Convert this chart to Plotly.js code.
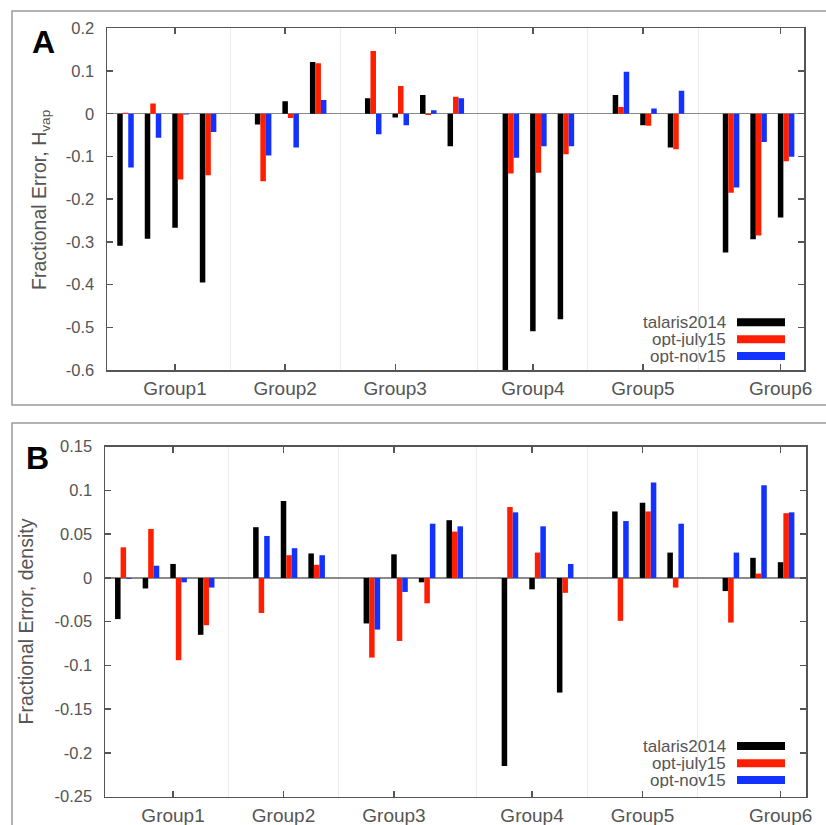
<!DOCTYPE html>
<html>
<head>
<meta charset="utf-8">
<script src="https://cdn.plot.ly/plotly-3.0.1.min.js"></script>
<style>html,body{margin:0;padding:0;background:#fff;}#chart{width:826px;height:825px;}</style>
</head>
<body>
<div id="chart"></div>
<script>
// Cluster slots along the x axis (empty slots separate the groups)
const slots = [0,1,2,3,5,6,7,9,10,11,12,14,15,16,18,19,20,22,23,24];
const groupTickPos = [2,6,10,15,19,24];
const groupLabels = ['Group1','Group2','Group3','Group4','Group5','Group6'];
const separatorPos = [4,8,13,17,21];
const seriesNames = ['talaris2014','opt-july15','opt-nov15'];
const seriesColors = ['#000000','#ff1e00','#1432ff'];

// Panel A: fractional error, Hvap
const hvapTalaris = [-0.309,-0.293,-0.267,-0.395,-0.025,0.029,0.121,0.036,-0.009,0.044,-0.076,-0.600,-0.509,-0.481,0.044,-0.027,-0.079,-0.325,-0.294,-0.243];
const hvapJuly    = [0.002,0.024,-0.154,-0.144,-0.158,-0.010,0.118,0.147,0.065,-0.003,0.040,-0.140,-0.138,-0.095,0.016,-0.028,-0.083,-0.185,-0.285,-0.111];
const hvapNov     = [-0.126,-0.056,-0.002,-0.043,-0.098,-0.079,0.032,-0.048,-0.027,0.008,0.036,-0.103,-0.076,-0.076,0.098,0.012,0.054,-0.173,-0.066,-0.101];

// Panel B: fractional error, density
const densTalaris = [-0.047,-0.012,0.016,-0.065,0.058,0.088,0.028,-0.052,0.027,-0.005,0.066,-0.215,-0.013,-0.131,0.076,0.086,0.029,-0.015,0.023,0.018];
const densJuly    = [0.035,0.056,-0.094,-0.054,-0.040,0.026,0.015,-0.091,-0.072,-0.029,0.053,0.081,0.029,-0.017,-0.049,0.076,-0.011,-0.051,0.005,0.074];
const densNov     = [-0.001,0.014,-0.005,-0.011,0.048,0.034,0.026,-0.059,-0.016,0.062,0.059,0.075,0.059,0.016,0.065,0.109,0.062,0.029,0.106,0.075];

// Tick labels
const hvapTickVals = [0.2,0.1,0,-0.1,-0.2,-0.3,-0.4,-0.5,-0.6];
const hvapTickText = ['0.2','0.1','0','-0.1','-0.2','-0.3','-0.4','-0.5','-0.6'];
const densTickVals = [0.15,0.1,0.05,0,-0.05,-0.1,-0.15,-0.2,-0.25];
const densTickText = ['0.15','0.1','0.05','0','-0.05','-0.1','-0.15','-0.2','-0.25'];

const W = 826, H = 825;
const px = v => v / W;
const py = v => 1 - v / H;

const barW = 0.2;
const offsets = [-0.1, 0.1, 0.3];
const panelA = [hvapTalaris, hvapJuly, hvapNov];
const panelB = [densTalaris, densJuly, densNov];

const traces = [];
[[panelA,'x','y'],[panelB,'x2','y2']].forEach(([series, xa, ya]) => {
  series.forEach((vals, i) => {
    traces.push({
      type: 'bar', x: slots, y: vals, name: seriesNames[i],
      xaxis: xa, yaxis: ya, width: barW, offset: offsets[i],
      marker: {color: seriesColors[i], line: {width: 0}},
      showlegend: false, hoverinfo: 'x+y+name'
    });
  });
});

const txtColor = '#555555';
const axColor = '#555555';
function xAxis(domain, range, anchor) {
  return {
    domain: domain, range: range, anchor: anchor,
    tickmode: 'array', tickvals: groupTickPos, ticktext: groupLabels,
    ticks: 'inside', ticklen: 6, tickwidth: 1.5, tickcolor: axColor,
    showline: true, linecolor: axColor, linewidth: 1.5, mirror: 'ticks',
    showgrid: false, zeroline: false,
    tickfont: {size: 19, color: txtColor}, ticklabelstandoff: 1,
    minor: {tickmode: 'array', tickvals: separatorPos, showgrid: true, gridcolor: '#ececec', gridwidth: 1, ticks: ''},
    fixedrange: true
  };
}
function yAxis(domain, range, anchor, tv, tt) {
  return {
    domain: domain, range: range, anchor: anchor,
    tickmode: 'array', tickvals: tv, ticktext: tt,
    ticks: 'inside', ticklen: 6, tickwidth: 1.5, tickcolor: axColor,
    showline: true, linecolor: axColor, linewidth: 1.5, mirror: 'ticks',
    showgrid: false, zeroline: true, zerolinecolor: '#8a8a8a', zerolinewidth: 1.5,
    tickfont: {size: 16.5, color: txtColor}, ticklabelstandoff: 8,
    fixedrange: true
  };
}

const annotations = [
  {text: '<b>A</b>', xref: 'paper', yref: 'paper', x: px(43.5), y: py(42), xanchor: 'center', yanchor: 'middle', showarrow: false, font: {size: 32, color: '#000'}},
  {text: '<b>B</b>', xref: 'paper', yref: 'paper', x: px(37), y: py(458), xanchor: 'center', yanchor: 'middle', showarrow: false, font: {size: 32, color: '#000'}},
  {text: 'Fractional Error, H<sub>vap</sub>', xref: 'paper', yref: 'paper', x: px(40), y: py(200), xanchor: 'center', yanchor: 'middle', textangle: -90, showarrow: false, font: {size: 19.5, color: txtColor}},
  {text: 'Fractional Error, density', xref: 'paper', yref: 'paper', x: px(25), y: py(621.5), xanchor: 'center', yanchor: 'middle', textangle: -90, showarrow: false, font: {size: 19.5, color: txtColor}}
];
const shapes = [
  {type: 'rect', xref: 'paper', yref: 'paper', x0: px(12), x1: px(840), y0: py(405), y1: py(11), line: {color: '#9a9a9a', width: 1.5}},
  {type: 'rect', xref: 'paper', yref: 'paper', x0: px(12), x1: px(840), y0: py(840), y1: py(423), line: {color: '#9a9a9a', width: 1.5}}
];
const legendRowsA = [322.3, 339.3, 356];
const legendRowsB = [746, 763.3, 780];
[legendRowsA, legendRowsB].forEach(rows => {
  rows.forEach((yy, i) => {
    annotations.push({text: seriesNames[i], xref: 'paper', yref: 'paper', x: px(727), y: py(yy), xanchor: 'right', yanchor: 'middle', height: 16, borderpad: 0, showarrow: false, font: {size: 17, color: txtColor}});
    shapes.push({type: 'line', xref: 'paper', yref: 'paper', x0: px(737), x1: px(785), y0: py(yy), y1: py(yy), line: {color: seriesColors[i], width: 8}});
  });
});

const layout = {
  width: W, height: H,
  margin: {l: 0, r: 0, t: 0, b: 0},
  paper_bgcolor: '#ffffff', plot_bgcolor: '#ffffff',
  font: {family: 'Liberation Sans, Arial, sans-serif', color: txtColor},
  barmode: 'overlay', showlegend: false,
  xaxis: xAxis([px(107), px(804)], [-0.472, 24.85], 'y'),
  yaxis: yAxis([py(370), py(28.3)], [-0.6, 0.2], 'x', hvapTickVals, hvapTickText),
  xaxis2: xAxis([px(105), px(806)], [-0.464, 24.92], 'y2'),
  yaxis2: yAxis([py(796.7), py(446.7)], [-0.25, 0.15], 'x2', densTickVals, densTickText),
  annotations: annotations, shapes: shapes
};

Plotly.newPlot('chart', traces, layout, {displayModeBar: false, staticPlot: true});
</script>
</body>
</html>
